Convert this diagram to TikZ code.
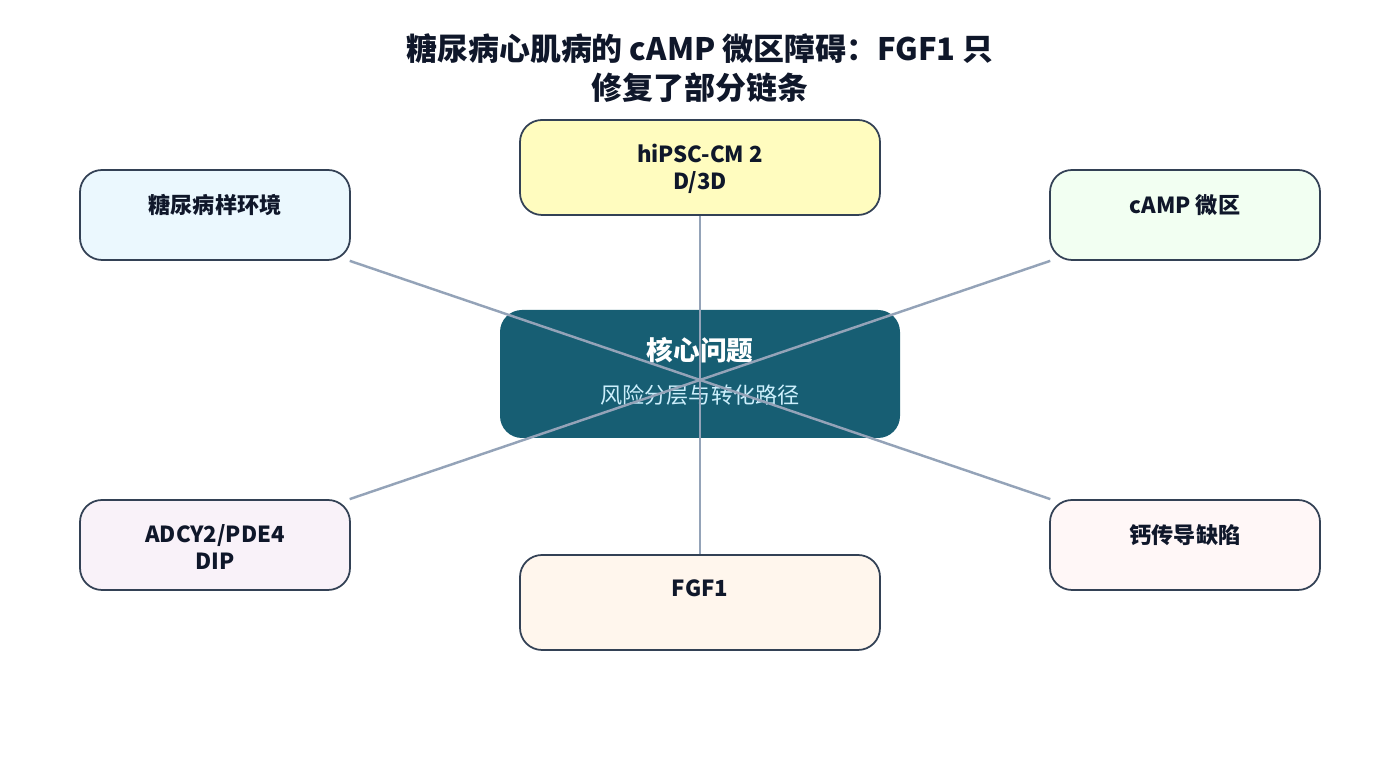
\documentclass[tikz,border=0pt]{standalone}
\usepackage{fontspec}
\setmainfont{Noto Sans CJK SC}
\usetikzlibrary{positioning}
\definecolor{edgec}{HTML}{94A3B8}
\definecolor{boxline}{HTML}{334155}
\definecolor{coreblue}{HTML}{175E73}
\definecolor{txt}{HTML}{0F172A}
\tikzset{
  box/.style={draw=boxline, line width=0.5pt, rounded corners=2.2mm, minimum width=#1},
  box/.default=2.7cm,
  lbl/.style={anchor=north, align=center, font=\fontsize{6.3}{7.6}\selectfont\bfseries, text=txt},
  link/.style={draw=edgec, line width=0.7pt}
}
\begin{document}
\begin{tikzpicture}
		\useasboundingbox (0,0) rectangle (14,7.6);
		% title
		\node[align=center, font=\fontsize{8.8}{11}\selectfont\bfseries, text=txt] (title) at (7,6.92) {糖尿病心肌病的 cAMP 微区障碍：FGF1 只\\修复了部分链条};
		
		% outer boxes
		\node[box, fill=cyan!8, minimum height=0.9cm] (env) at (2.15,5.45) {};
		\node[box=3.6cm, fill=yellow!25, minimum height=0.95cm] (cm) at (7,5.925) {};
		\node[box, fill=green!5, minimum height=0.9cm] (camp) at (11.85,5.45) {};
		\node[box, fill=violet!5, minimum height=0.9cm] (adcy) at (2.15,2.15) {};
		\node[box=3.6cm, fill=orange!7, minimum height=0.95cm] (fgf) at (7,1.575) {};
		\node[box, fill=pink!12, minimum height=0.9cm] (ca) at (11.85,2.15) {};
		
		% core
		\node[fill=coreblue, rounded corners=2.2mm, minimum width=4cm, minimum height=1.28cm] (core) at (7,3.86) {};
		\node[font=\fontsize{7.6}{9}\selectfont\bfseries, text=white] (coret) at (7,4.1) {核心问题};
		\node[font=\fontsize{6.3}{8}\selectfont, text=cyan!20] (cores) at (7,3.65) {风险分层与转化路径};
		
		% labels
		\node[lbl] (envt) at ([yshift=-0.13cm]env.north) {糖尿病样环境};
		\node[lbl] (cmt) at ([yshift=-0.13cm]cm.north) {hiPSC-CM 2\\D/3D};
		\node[lbl] (campt) at ([yshift=-0.13cm]camp.north) {cAMP 微区};
		\node[lbl] (adcyt) at ([yshift=-0.13cm]adcy.north) {ADCY2/PDE4\\DIP};
		\node[lbl] (fgft) at ([yshift=-0.13cm]fgf.north) {FGF1};
		\node[lbl] (cat) at ([yshift=-0.13cm]ca.north) {钙传导缺陷};
		
		% links
		\draw[link] (env) -- (ca);
		\draw[link] (cm) -- (fgf);
		\draw[link] (camp) -- (adcy);
\end{tikzpicture}
\end{document}
